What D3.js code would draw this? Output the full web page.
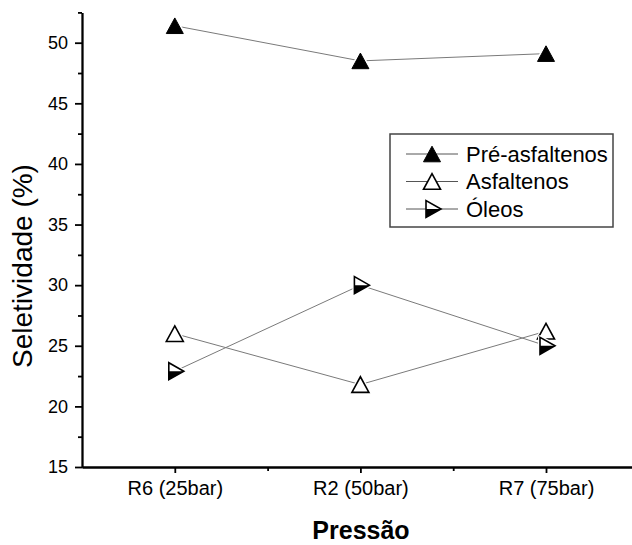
<!DOCTYPE html>
<html>
<head>
<meta charset="utf-8">
<script src="https://cdn.jsdelivr.net/npm/d3@7"></script>
<style>
  body { margin: 0; background: #fff; }
  svg { display: block; }
  text { font-family: "Liberation Sans", Arial, sans-serif; fill: #000; }
</style>
</head>
<body>
<svg id="chart" width="632" height="545"></svg>
<script>
// Selectivity (%) per reactor run at three pressures
const categories = ["R6 (25bar)", "R2 (50bar)", "R7 (75bar)"];
const preAsfaltenos = [51.4, 48.5, 49.1];
const asfaltenos = [26.0, 21.8, 26.2];
const oleos = [22.9, 30.0, 25.0];
const seriesNames = ["Pré-asfaltenos", "Asfaltenos", "Óleos"];
const yMajorTicks = [15, 20, 25, 30, 35, 40, 45, 50];
const yMinorTicks = [17.5, 22.5, 27.5, 32.5, 37.5, 42.5, 47.5, 52.5];
const xMinorTicks = [1.5, 2.5];

const svg = d3.select("#chart");

const x = d3.scaleLinear().domain([0.5, 3.5]).range([82, 638.8]);
const y = d3.scaleLinear().domain([15, 52.5]).range([467, 12.4]);

// Marker shapes
const triUp = "M-8.5,7.8L8.5,7.8L0,-7.8Z";
const triRight = "M-6,-8.5L-6,8.5L9,0Z";
const triRightLower = "M-6,0L-6,8.5L9,0Z";

const series = [
  { name: seriesNames[0], values: preAsfaltenos, kind: "filled" },
  { name: seriesNames[1], values: asfaltenos, kind: "open" },
  { name: seriesNames[2], values: oleos, kind: "half" }
];

function drawMarker(g, kind) {
  const shape = kind === "half" ? triRight : triUp;
  // white halo leaves a small gap where the line meets the symbol
  g.append("path").attr("d", shape).attr("fill", "#fff")
    .attr("stroke", "#fff").attr("stroke-width", 4).attr("stroke-linejoin", "round");
  if (kind === "filled") {
    g.append("path").attr("d", shape).attr("fill", "#000")
      .attr("stroke", "#000").attr("stroke-width", 1).attr("stroke-linejoin", "miter");
  } else if (kind === "open") {
    g.append("path").attr("d", shape).attr("fill", "#fff")
      .attr("stroke", "#000").attr("stroke-width", 1.6).attr("stroke-linejoin", "miter");
  } else {
    g.append("path").attr("d", shape).attr("fill", "#fff");
    g.append("path").attr("d", triRightLower).attr("fill", "#000");
    g.append("path").attr("d", shape).attr("fill", "none")
      .attr("stroke", "#000").attr("stroke-width", 1.6).attr("stroke-linejoin", "miter");
  }
}

// Series lines
const line = d3.line().x((d, i) => x(i + 1)).y(d => y(d));
series.forEach(s => {
  svg.append("path").datum(s.values).attr("d", line)
    .attr("fill", "none").attr("stroke", "#7a7a7a").attr("stroke-width", 1);
});

// Series markers
series.forEach(s => {
  s.values.forEach((v, i) => {
    const g = svg.append("g").attr("transform", `translate(${x(i + 1)},${y(v)})`);
    drawMarker(g, s.kind);
  });
});

// Y axis: minor then major ticks
const yMinor = svg.append("g").attr("transform", `translate(${x(0.5)},0)`)
  .call(d3.axisLeft(y).tickValues(yMinorTicks).tickSize(4).tickSizeOuter(0).tickFormat(""));
const yMajor = svg.append("g").attr("transform", `translate(${x(0.5)},0)`)
  .call(d3.axisLeft(y).tickValues(yMajorTicks).tickSize(7).tickSizeOuter(0).tickPadding(7));
[yMinor, yMajor].forEach(g => {
  g.selectAll("path.domain").attr("stroke", "#000").attr("stroke-width", 1.8);
  g.selectAll(".tick line").attr("stroke", "#000").attr("stroke-width", 1.8);
});
yMajor.selectAll(".tick text")
  .style("font-family", "'Liberation Sans', Arial, sans-serif")
  .attr("font-size", 18).attr("fill", "#000");

// X axis
const xMinor = svg.append("g").attr("transform", `translate(0,${y(15)})`)
  .call(d3.axisBottom(x).tickValues(xMinorTicks).tickSize(4).tickSizeOuter(0).tickFormat(""));
const xMajor = svg.append("g").attr("transform", `translate(0,${y(15)})`)
  .call(d3.axisBottom(x).tickValues([1, 2, 3]).tickSize(6).tickSizeOuter(0)
    .tickPadding(8).tickFormat(d => categories[d - 1]));
[xMinor, xMajor].forEach(g => {
  g.selectAll("path.domain").attr("stroke", "#000").attr("stroke-width", 1.8);
  g.selectAll(".tick line").attr("stroke", "#000").attr("stroke-width", 1.8);
});
xMajor.selectAll(".tick text")
  .style("font-family", "'Liberation Sans', Arial, sans-serif")
  .attr("font-size", 20).attr("fill", "#000");

// Axis titles
svg.append("text")
  .attr("transform", `translate(32,266) rotate(-90)`)
  .attr("text-anchor", "middle").attr("font-size", 28)
  .text("Seletividade (%)");
svg.append("text")
  .attr("x", 361).attr("y", 539)
  .attr("text-anchor", "middle").attr("font-size", 25).attr("font-weight", "bold")
  .text("Pressão");

// Legend
const legend = svg.append("g");
legend.append("rect").attr("x", 390).attr("y", 134).attr("width", 223).attr("height", 93)
  .attr("fill", "#fff").attr("stroke", "#444").attr("stroke-width", 1.5);
const rowY = [154, 181.5, 209];
series.forEach((s, i) => {
  const row = legend.append("g").attr("transform", `translate(0,${rowY[i]})`);
  row.append("line").attr("x1", 406).attr("x2", 458).attr("y1", 0).attr("y2", 0)
    .attr("stroke", "#555").attr("stroke-width", 1);
  const m = row.append("g").attr("transform", "translate(432,0)");
  if (s.kind === "filled") {
    m.append("path").attr("d", triUp).attr("fill", "#000").attr("stroke", "#000");
  } else if (s.kind === "open") {
    m.append("path").attr("d", triUp).attr("fill", "#fff").attr("stroke", "#000").attr("stroke-width", 1.6);
  } else {
    m.append("path").attr("d", triRight).attr("fill", "#fff");
    m.append("path").attr("d", triRightLower).attr("fill", "#000");
    m.append("path").attr("d", triRight).attr("fill", "none").attr("stroke", "#000").attr("stroke-width", 1.6);
  }
  row.append("text").attr("x", 466).attr("y", 0).attr("dy", "0.36em")
    .attr("font-size", 22).text(s.name);
});
</script>
</body>
</html>
